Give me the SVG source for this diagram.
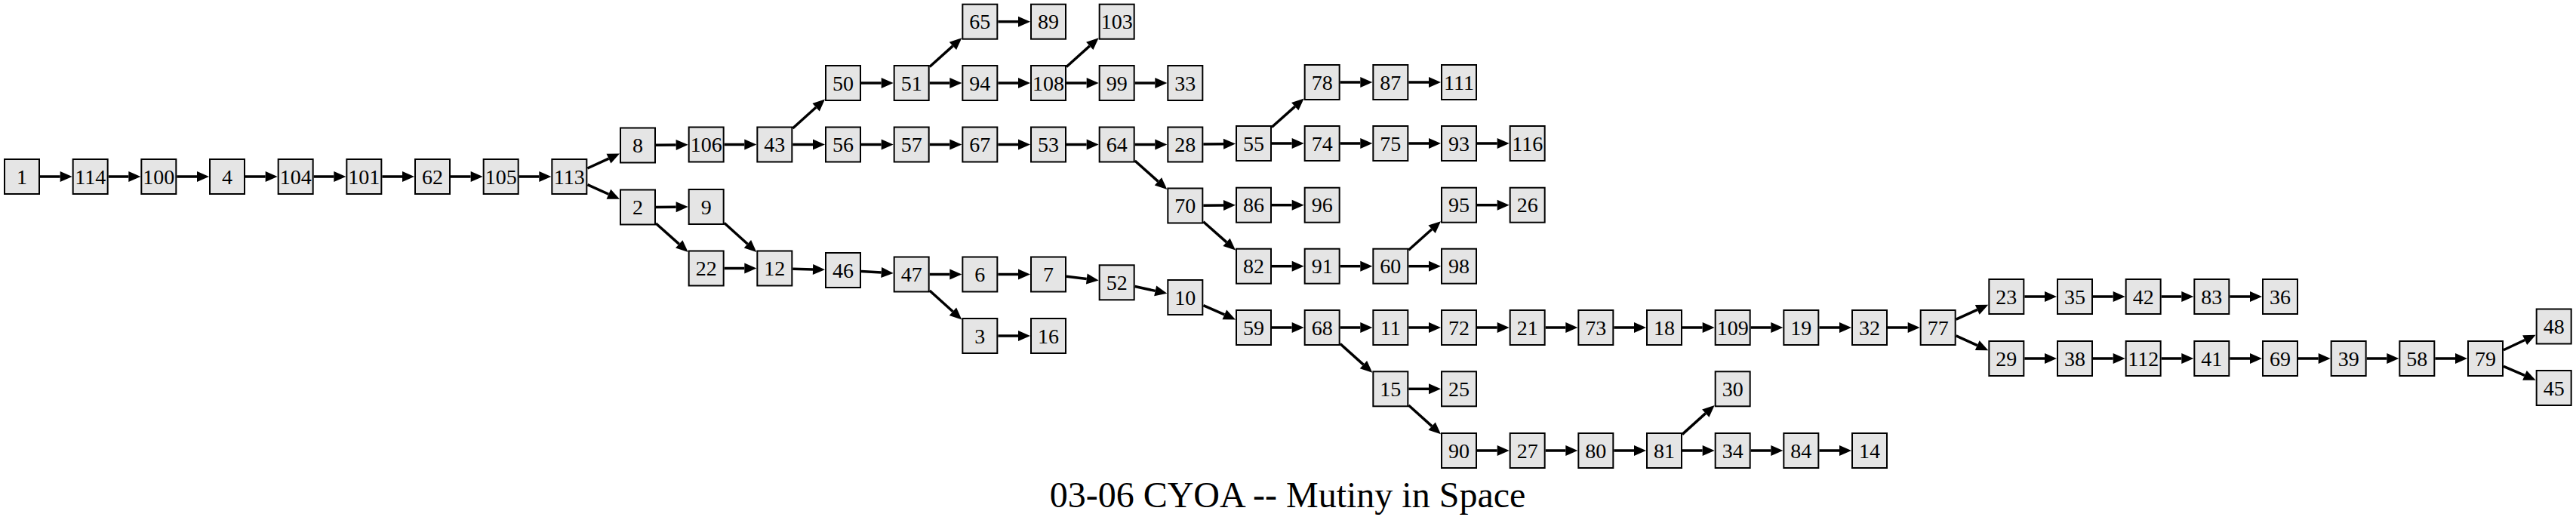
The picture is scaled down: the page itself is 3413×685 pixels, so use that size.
<svg xmlns="http://www.w3.org/2000/svg" width="3413" height="685" viewBox="0 0 3413 685">
<style>
.n rect{fill:#e5e5e5;stroke:#000;stroke-width:2}
.n text{font-family:"Liberation Serif","Times New Roman",serif;font-size:28px;text-anchor:middle;fill:#000}
#edges path{fill:none;stroke:#000;stroke-width:3.5;marker-end:url(#ah)}
.title{font-family:"Liberation Serif","Times New Roman",serif;font-size:48px;text-anchor:middle;fill:#000}
</style>
<defs>
<marker id="ah" markerUnits="userSpaceOnUse" markerWidth="16" markerHeight="14" refX="0" refY="7" orient="auto" overflow="visible">
<path d="M0,0L16,7L0,14z" fill="#000"/>
</marker>
</defs>
<rect width="3413" height="685" fill="#fff"/>
<g id="edges">
<path d="M53,234h26.67"/>
<path d="M143.67,234h26.67"/>
<path d="M234.33,234h26.67"/>
<path d="M325,234h26.67"/>
<path d="M415.67,234h26.67"/>
<path d="M506.33,234h26.67"/>
<path d="M597,234h26.67"/>
<path d="M687.67,234h26.67"/>
<path d="M778.33,223.02L806.45,210.14"/>
<path d="M778.33,244.72L806.39,257.25"/>
<path d="M869,192.24L895.67,191.9"/>
<path d="M869,274.4L895.67,274.2"/>
<path d="M869,295.94L899.74,323.4"/>
<path d="M959.67,191.5h26.67"/>
<path d="M959.67,295.57L990.43,323.23"/>
<path d="M959.67,355.5h26.67"/>
<path d="M1050.33,169.93L1081.1,142.27"/>
<path d="M1050.33,191.5h26.67"/>
<path d="M1050.33,356.16L1077.01,356.9"/>
<path d="M1141,110h26.67"/>
<path d="M1141,191.5h26.67"/>
<path d="M1141,359.46L1167.7,361.07"/>
<path d="M1231.67,88.48L1262.42,60.9"/>
<path d="M1231.67,110h26.67"/>
<path d="M1231.67,191.5h26.67"/>
<path d="M1231.67,363.5h26.67"/>
<path d="M1231.67,385.07L1262.43,412.73"/>
<path d="M1322.33,28.7h26.67"/>
<path d="M1322.33,110h26.67"/>
<path d="M1322.33,191.5h26.67"/>
<path d="M1322.33,363.5h26.67"/>
<path d="M1322.33,445h26.67"/>
<path d="M1413,88.48L1443.76,60.9"/>
<path d="M1413,110h26.67"/>
<path d="M1413,191.5h26.67"/>
<path d="M1413,366.36L1439.78,369.55"/>
<path d="M1503.67,110h26.67"/>
<path d="M1503.67,191.5h26.67"/>
<path d="M1503.67,212.94L1534.4,240.4"/>
<path d="M1503.67,379.51L1530.69,385.39"/>
<path d="M1594.33,191.1L1621,190.66"/>
<path d="M1594.33,272.3L1621,272"/>
<path d="M1594.33,293.73L1625.02,320.87"/>
<path d="M1594.33,404.59L1622.36,416.95"/>
<path d="M1685,168.56L1715.74,141.1"/>
<path d="M1685,190h26.67"/>
<path d="M1685,271.7h26.67"/>
<path d="M1685,352.7h26.67"/>
<path d="M1685,434h26.67"/>
<path d="M1775.67,109h26.67"/>
<path d="M1775.67,190h26.67"/>
<path d="M1775.67,352.7h26.67"/>
<path d="M1775.67,434h26.67"/>
<path d="M1775.67,455.52L1806.42,483.1"/>
<path d="M1866.33,109h26.67"/>
<path d="M1866.33,190h26.67"/>
<path d="M1866.33,331.26L1897.07,303.8"/>
<path d="M1866.33,352.7h26.67"/>
<path d="M1866.33,434h26.67"/>
<path d="M1866.33,515.3h26.67"/>
<path d="M1866.33,536.93L1897.11,564.66"/>
<path d="M1957,190h26.67"/>
<path d="M1957,271.7h26.67"/>
<path d="M1957,434h26.67"/>
<path d="M1957,597h26.67"/>
<path d="M2047.67,434h26.67"/>
<path d="M2047.67,597h26.67"/>
<path d="M2138.33,434h26.67"/>
<path d="M2138.33,597h26.67"/>
<path d="M2229,434h26.67"/>
<path d="M2229,575.37L2259.78,547.64"/>
<path d="M2229,597h26.67"/>
<path d="M2319.67,434h26.67"/>
<path d="M2319.67,597h26.67"/>
<path d="M2410.33,434h26.67"/>
<path d="M2410.33,597h26.67"/>
<path d="M2501,434h26.67"/>
<path d="M2591.67,423.15L2619.75,410.44"/>
<path d="M2591.67,444.85L2619.75,457.56"/>
<path d="M2682.33,393h26.67"/>
<path d="M2682.33,475h26.67"/>
<path d="M2773,393h26.67"/>
<path d="M2773,475h26.67"/>
<path d="M2863.67,393h26.67"/>
<path d="M2863.67,475h26.67"/>
<path d="M2954.33,393h26.67"/>
<path d="M2954.33,475h26.67"/>
<path d="M3045,475h26.67"/>
<path d="M3135.67,475h26.67"/>
<path d="M3226.33,475h26.67"/>
<path d="M3317,463.75L3345.18,450.54"/>
<path d="M3317,485.32L3344.97,497.36"/>
</g>
<g id="n1" class="n" transform="translate(29,234)"><rect x="-23" y="-23" width="46" height="46"/><text y="9.5">1</text></g>
<g id="n114" class="n" transform="translate(119.67,234)"><rect x="-23" y="-23" width="46" height="46"/><text y="9.5">114</text></g>
<g id="n100" class="n" transform="translate(210.33,234)"><rect x="-23" y="-23" width="46" height="46"/><text y="9.5">100</text></g>
<g id="n4" class="n" transform="translate(301,234)"><rect x="-23" y="-23" width="46" height="46"/><text y="9.5">4</text></g>
<g id="n104" class="n" transform="translate(391.67,234)"><rect x="-23" y="-23" width="46" height="46"/><text y="9.5">104</text></g>
<g id="n101" class="n" transform="translate(482.33,234)"><rect x="-23" y="-23" width="46" height="46"/><text y="9.5">101</text></g>
<g id="n62" class="n" transform="translate(573,234)"><rect x="-23" y="-23" width="46" height="46"/><text y="9.5">62</text></g>
<g id="n105" class="n" transform="translate(663.67,234)"><rect x="-23" y="-23" width="46" height="46"/><text y="9.5">105</text></g>
<g id="n113" class="n" transform="translate(754.33,234)"><rect x="-23" y="-23" width="46" height="46"/><text y="9.5">113</text></g>
<g id="n8" class="n" transform="translate(845,192.5)"><rect x="-23" y="-23" width="46" height="46"/><text y="9.5">8</text></g>
<g id="n2" class="n" transform="translate(845,274.5)"><rect x="-23" y="-23" width="46" height="46"/><text y="9.5">2</text></g>
<g id="n106" class="n" transform="translate(935.67,191.5)"><rect x="-23" y="-23" width="46" height="46"/><text y="9.5">106</text></g>
<g id="n9" class="n" transform="translate(935.67,274)"><rect x="-23" y="-23" width="46" height="46"/><text y="9.5">9</text></g>
<g id="n22" class="n" transform="translate(935.67,355.5)"><rect x="-23" y="-23" width="46" height="46"/><text y="9.5">22</text></g>
<g id="n43" class="n" transform="translate(1026.33,191.5)"><rect x="-23" y="-23" width="46" height="46"/><text y="9.5">43</text></g>
<g id="n12" class="n" transform="translate(1026.33,355.5)"><rect x="-23" y="-23" width="46" height="46"/><text y="9.5">12</text></g>
<g id="n50" class="n" transform="translate(1117,110)"><rect x="-23" y="-23" width="46" height="46"/><text y="9.5">50</text></g>
<g id="n56" class="n" transform="translate(1117,191.5)"><rect x="-23" y="-23" width="46" height="46"/><text y="9.5">56</text></g>
<g id="n46" class="n" transform="translate(1117,358)"><rect x="-23" y="-23" width="46" height="46"/><text y="9.5">46</text></g>
<g id="n51" class="n" transform="translate(1207.67,110)"><rect x="-23" y="-23" width="46" height="46"/><text y="9.5">51</text></g>
<g id="n57" class="n" transform="translate(1207.67,191.5)"><rect x="-23" y="-23" width="46" height="46"/><text y="9.5">57</text></g>
<g id="n47" class="n" transform="translate(1207.67,363.5)"><rect x="-23" y="-23" width="46" height="46"/><text y="9.5">47</text></g>
<g id="n65" class="n" transform="translate(1298.33,28.7)"><rect x="-23" y="-23" width="46" height="46"/><text y="9.5">65</text></g>
<g id="n94" class="n" transform="translate(1298.33,110)"><rect x="-23" y="-23" width="46" height="46"/><text y="9.5">94</text></g>
<g id="n67" class="n" transform="translate(1298.33,191.5)"><rect x="-23" y="-23" width="46" height="46"/><text y="9.5">67</text></g>
<g id="n6" class="n" transform="translate(1298.33,363.5)"><rect x="-23" y="-23" width="46" height="46"/><text y="9.5">6</text></g>
<g id="n3" class="n" transform="translate(1298.33,445)"><rect x="-23" y="-23" width="46" height="46"/><text y="9.5">3</text></g>
<g id="n89" class="n" transform="translate(1389,28.7)"><rect x="-23" y="-23" width="46" height="46"/><text y="9.5">89</text></g>
<g id="n108" class="n" transform="translate(1389,110)"><rect x="-23" y="-23" width="46" height="46"/><text y="9.5">108</text></g>
<g id="n53" class="n" transform="translate(1389,191.5)"><rect x="-23" y="-23" width="46" height="46"/><text y="9.5">53</text></g>
<g id="n7" class="n" transform="translate(1389,363.5)"><rect x="-23" y="-23" width="46" height="46"/><text y="9.5">7</text></g>
<g id="n16" class="n" transform="translate(1389,445)"><rect x="-23" y="-23" width="46" height="46"/><text y="9.5">16</text></g>
<g id="n103" class="n" transform="translate(1479.67,28.7)"><rect x="-23" y="-23" width="46" height="46"/><text y="9.5">103</text></g>
<g id="n99" class="n" transform="translate(1479.67,110)"><rect x="-23" y="-23" width="46" height="46"/><text y="9.5">99</text></g>
<g id="n64" class="n" transform="translate(1479.67,191.5)"><rect x="-23" y="-23" width="46" height="46"/><text y="9.5">64</text></g>
<g id="n52" class="n" transform="translate(1479.67,374.3)"><rect x="-23" y="-23" width="46" height="46"/><text y="9.5">52</text></g>
<g id="n33" class="n" transform="translate(1570.33,110)"><rect x="-23" y="-23" width="46" height="46"/><text y="9.5">33</text></g>
<g id="n28" class="n" transform="translate(1570.33,191.5)"><rect x="-23" y="-23" width="46" height="46"/><text y="9.5">28</text></g>
<g id="n70" class="n" transform="translate(1570.33,272.5)"><rect x="-23" y="-23" width="46" height="46"/><text y="9.5">70</text></g>
<g id="n10" class="n" transform="translate(1570.33,394)"><rect x="-23" y="-23" width="46" height="46"/><text y="9.5">10</text></g>
<g id="n55" class="n" transform="translate(1661,190)"><rect x="-23" y="-23" width="46" height="46"/><text y="9.5">55</text></g>
<g id="n86" class="n" transform="translate(1661,271.7)"><rect x="-23" y="-23" width="46" height="46"/><text y="9.5">86</text></g>
<g id="n82" class="n" transform="translate(1661,352.7)"><rect x="-23" y="-23" width="46" height="46"/><text y="9.5">82</text></g>
<g id="n59" class="n" transform="translate(1661,434)"><rect x="-23" y="-23" width="46" height="46"/><text y="9.5">59</text></g>
<g id="n78" class="n" transform="translate(1751.67,109)"><rect x="-23" y="-23" width="46" height="46"/><text y="9.5">78</text></g>
<g id="n74" class="n" transform="translate(1751.67,190)"><rect x="-23" y="-23" width="46" height="46"/><text y="9.5">74</text></g>
<g id="n96" class="n" transform="translate(1751.67,271.7)"><rect x="-23" y="-23" width="46" height="46"/><text y="9.5">96</text></g>
<g id="n91" class="n" transform="translate(1751.67,352.7)"><rect x="-23" y="-23" width="46" height="46"/><text y="9.5">91</text></g>
<g id="n68" class="n" transform="translate(1751.67,434)"><rect x="-23" y="-23" width="46" height="46"/><text y="9.5">68</text></g>
<g id="n87" class="n" transform="translate(1842.33,109)"><rect x="-23" y="-23" width="46" height="46"/><text y="9.5">87</text></g>
<g id="n75" class="n" transform="translate(1842.33,190)"><rect x="-23" y="-23" width="46" height="46"/><text y="9.5">75</text></g>
<g id="n60" class="n" transform="translate(1842.33,352.7)"><rect x="-23" y="-23" width="46" height="46"/><text y="9.5">60</text></g>
<g id="n11" class="n" transform="translate(1842.33,434)"><rect x="-23" y="-23" width="46" height="46"/><text y="9.5">11</text></g>
<g id="n15" class="n" transform="translate(1842.33,515.3)"><rect x="-23" y="-23" width="46" height="46"/><text y="9.5">15</text></g>
<g id="n111" class="n" transform="translate(1933,109)"><rect x="-23" y="-23" width="46" height="46"/><text y="9.5">111</text></g>
<g id="n93" class="n" transform="translate(1933,190)"><rect x="-23" y="-23" width="46" height="46"/><text y="9.5">93</text></g>
<g id="n95" class="n" transform="translate(1933,271.7)"><rect x="-23" y="-23" width="46" height="46"/><text y="9.5">95</text></g>
<g id="n98" class="n" transform="translate(1933,352.7)"><rect x="-23" y="-23" width="46" height="46"/><text y="9.5">98</text></g>
<g id="n72" class="n" transform="translate(1933,434)"><rect x="-23" y="-23" width="46" height="46"/><text y="9.5">72</text></g>
<g id="n25" class="n" transform="translate(1933,515.3)"><rect x="-23" y="-23" width="46" height="46"/><text y="9.5">25</text></g>
<g id="n90" class="n" transform="translate(1933,597)"><rect x="-23" y="-23" width="46" height="46"/><text y="9.5">90</text></g>
<g id="n116" class="n" transform="translate(2023.67,190)"><rect x="-23" y="-23" width="46" height="46"/><text y="9.5">116</text></g>
<g id="n26" class="n" transform="translate(2023.67,271.7)"><rect x="-23" y="-23" width="46" height="46"/><text y="9.5">26</text></g>
<g id="n21" class="n" transform="translate(2023.67,434)"><rect x="-23" y="-23" width="46" height="46"/><text y="9.5">21</text></g>
<g id="n27" class="n" transform="translate(2023.67,597)"><rect x="-23" y="-23" width="46" height="46"/><text y="9.5">27</text></g>
<g id="n73" class="n" transform="translate(2114.33,434)"><rect x="-23" y="-23" width="46" height="46"/><text y="9.5">73</text></g>
<g id="n80" class="n" transform="translate(2114.33,597)"><rect x="-23" y="-23" width="46" height="46"/><text y="9.5">80</text></g>
<g id="n18" class="n" transform="translate(2205,434)"><rect x="-23" y="-23" width="46" height="46"/><text y="9.5">18</text></g>
<g id="n81" class="n" transform="translate(2205,597)"><rect x="-23" y="-23" width="46" height="46"/><text y="9.5">81</text></g>
<g id="n109" class="n" transform="translate(2295.67,434)"><rect x="-23" y="-23" width="46" height="46"/><text y="9.5">109</text></g>
<g id="n30" class="n" transform="translate(2295.67,515.3)"><rect x="-23" y="-23" width="46" height="46"/><text y="9.5">30</text></g>
<g id="n34" class="n" transform="translate(2295.67,597)"><rect x="-23" y="-23" width="46" height="46"/><text y="9.5">34</text></g>
<g id="n19" class="n" transform="translate(2386.33,434)"><rect x="-23" y="-23" width="46" height="46"/><text y="9.5">19</text></g>
<g id="n84" class="n" transform="translate(2386.33,597)"><rect x="-23" y="-23" width="46" height="46"/><text y="9.5">84</text></g>
<g id="n32" class="n" transform="translate(2477,434)"><rect x="-23" y="-23" width="46" height="46"/><text y="9.5">32</text></g>
<g id="n14" class="n" transform="translate(2477,597)"><rect x="-23" y="-23" width="46" height="46"/><text y="9.5">14</text></g>
<g id="n77" class="n" transform="translate(2567.67,434)"><rect x="-23" y="-23" width="46" height="46"/><text y="9.5">77</text></g>
<g id="n23" class="n" transform="translate(2658.33,393)"><rect x="-23" y="-23" width="46" height="46"/><text y="9.5">23</text></g>
<g id="n29" class="n" transform="translate(2658.33,475)"><rect x="-23" y="-23" width="46" height="46"/><text y="9.5">29</text></g>
<g id="n35" class="n" transform="translate(2749,393)"><rect x="-23" y="-23" width="46" height="46"/><text y="9.5">35</text></g>
<g id="n38" class="n" transform="translate(2749,475)"><rect x="-23" y="-23" width="46" height="46"/><text y="9.5">38</text></g>
<g id="n42" class="n" transform="translate(2839.67,393)"><rect x="-23" y="-23" width="46" height="46"/><text y="9.5">42</text></g>
<g id="n112" class="n" transform="translate(2839.67,475)"><rect x="-23" y="-23" width="46" height="46"/><text y="9.5">112</text></g>
<g id="n83" class="n" transform="translate(2930.33,393)"><rect x="-23" y="-23" width="46" height="46"/><text y="9.5">83</text></g>
<g id="n41" class="n" transform="translate(2930.33,475)"><rect x="-23" y="-23" width="46" height="46"/><text y="9.5">41</text></g>
<g id="n36" class="n" transform="translate(3021,393)"><rect x="-23" y="-23" width="46" height="46"/><text y="9.5">36</text></g>
<g id="n69" class="n" transform="translate(3021,475)"><rect x="-23" y="-23" width="46" height="46"/><text y="9.5">69</text></g>
<g id="n39" class="n" transform="translate(3111.67,475)"><rect x="-23" y="-23" width="46" height="46"/><text y="9.5">39</text></g>
<g id="n58" class="n" transform="translate(3202.33,475)"><rect x="-23" y="-23" width="46" height="46"/><text y="9.5">58</text></g>
<g id="n79" class="n" transform="translate(3293,475)"><rect x="-23" y="-23" width="46" height="46"/><text y="9.5">79</text></g>
<g id="n48" class="n" transform="translate(3383.67,432.5)"><rect x="-23" y="-23" width="46" height="46"/><text y="9.5">48</text></g>
<g id="n45" class="n" transform="translate(3383.67,514)"><rect x="-23" y="-23" width="46" height="46"/><text y="9.5">45</text></g>
<text class="title" x="1706" y="672">03-06 CYOA -- Mutiny in Space</text>
</svg>
